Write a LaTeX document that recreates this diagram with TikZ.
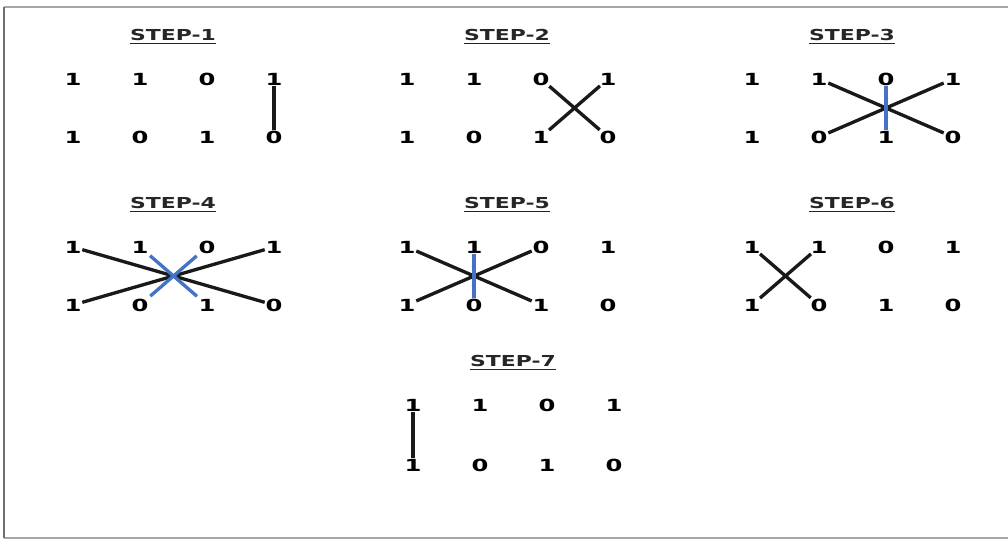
\documentclass[tikz,border=0pt]{standalone}
\usepackage{fontspec}
\newfontfamily\stepfont[FakeStretch=1.45]{DejaVu Sans}
\definecolor{swapblue}{HTML}{4472C4}
\definecolor{framegray}{HTML}{A6A6A6}
\definecolor{frameleft}{HTML}{6E6E6E}
\tikzset{
	bit/.style={font={\stepfont\bfseries\fontsize{9.5pt}{11pt}\selectfont}, inner sep=0.3pt},
	steptitle/.style={font={\stepfont\bfseries\fontsize{8.6pt}{10pt}\selectfont}, text=black!85},
	swapline/.style={line width=1.9pt, draw=black!90},
	bluelink/.style={line width=1.9pt, draw=swapblue},
	cut/.style={shorten <=1.5pt, shorten >=1.5pt}
}

\begin{document}
\begin{tikzpicture}[x=0.02cm, y=-0.02cm]
	\useasboundingbox (0,0) rectangle (1008,543);
	% frame
	\draw[framegray, line width=1pt] (1012,7) -- (4,7);
	\draw[framegray, line width=1pt] (4,538) -- (1012,538);
	\draw[frameleft, line width=0.8pt] (4,7) -- (4,538);
	% the seven steps, same bits every time
	\foreach \s/\x/\y/\yb in {1/73/79/137, 2/407/79/137, 3/752/79/137,
		4/73/247/305, 5/407/247/305, 6/752/247/305, 7/413/405/465} {
		\node[steptitle] (title\s) at ({\x+100}, {\y-42}) {\underline{STEP-\s}};
		\foreach \t/\b [count=\i] in {1/1, 1/0, 0/1, 1/0} {
			\node[bit] (s\s t\i) at ({\x+67*(\i-1)}, \y) {\t};
			\node[bit] (s\s b\i) at ({\x+67*(\i-1)}, \yb) {\b};
		}
	}
	% step 1
	\draw[swapline] (s1t4) -- (s1b4);
	% step 2
	\draw[swapline] (s2t3) -- (s2b4);
	\draw[swapline] (s2t4) -- (s2b3);
	% step 3
	\draw[swapline] (s3t2) -- (s3b4);
	\draw[swapline] (s3t4) -- (s3b2);
	\draw[bluelink] (s3t3) -- (s3b3);
	% step 4
	\draw[swapline] (s4t1) -- (s4b4);
	\draw[swapline] (s4t4) -- (s4b1);
	\draw[bluelink, cut] (s4t2) -- (s4b3);
	\draw[bluelink, cut] (s4t3) -- (s4b2);
	% step 5
	\draw[swapline] (s5t1) -- (s5b3);
	\draw[swapline] (s5b1) -- (s5t3);
	\draw[bluelink] (s5t2) -- (s5b2);
	% step 6
	\draw[swapline] (s6t1) -- (s6b2);
	\draw[swapline] (s6b1) -- (s6t2);
	% step 7
	\draw[swapline] (s7t1) -- (s7b1);
\end{tikzpicture}
\end{document}
